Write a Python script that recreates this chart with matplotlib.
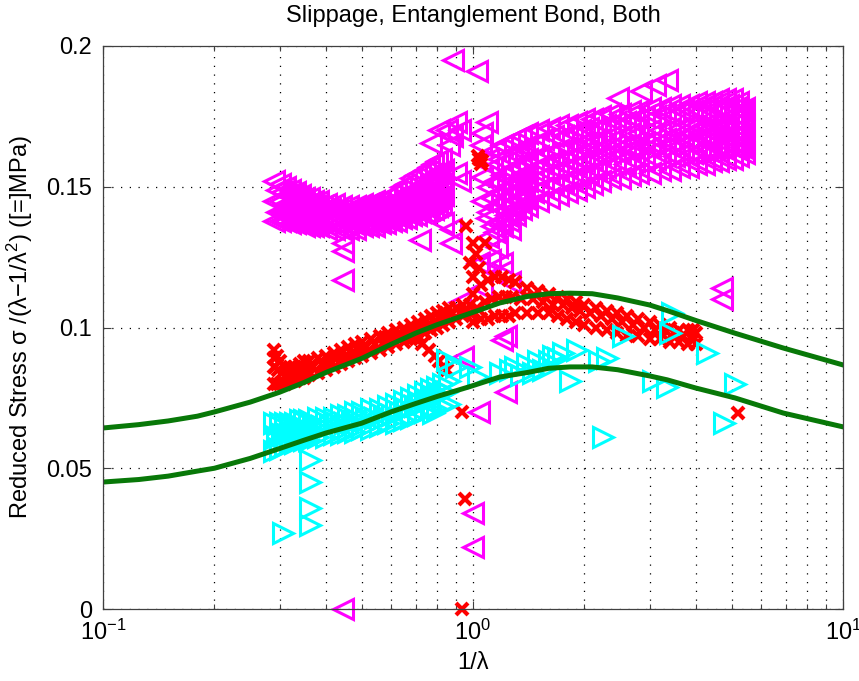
import numpy as np
import matplotlib
matplotlib.use('Agg')
import matplotlib.pyplot as plt
from matplotlib.ticker import LogLocator, FixedLocator, FuncFormatter

plt.rcParams['font.family'] = ['Liberation Sans', 'DejaVu Sans']
plt.rcParams['mathtext.fontset'] = 'custom'
plt.rcParams['mathtext.rm'] = 'Liberation Sans'
plt.rcParams['mathtext.it'] = 'Liberation Sans'

# ---- magenta (left-pointing triangles) ----
mag_left_x = [0.29, 0.30, 0.31, 0.32, 0.33, 0.34, 0.35, 0.36, 0.37, 0.38, 0.40, 0.42,
              0.44, 0.46, 0.48, 0.50, 0.52, 0.54, 0.56, 0.58, 0.60, 0.62, 0.64, 0.66,
              0.68, 0.70, 0.72, 0.74, 0.76, 0.78, 0.80, 0.82]
mag_left_hi = [0.152, 0.151, 0.150, 0.149, 0.148, 0.147, 0.146, 0.146, 0.145, 0.145, 0.144, 0.144,
               0.143, 0.143, 0.143, 0.144, 0.144, 0.145, 0.145, 0.146, 0.147, 0.148, 0.150, 0.151,
               0.153, 0.154, 0.155, 0.156, 0.157, 0.158, 0.159, 0.160]
mag_left_mid = [0.145, 0.145, 0.144, 0.144, 0.143, 0.143, 0.142, 0.142, 0.141, 0.141, 0.140, 0.140,
                0.140, 0.140, 0.140, 0.140, 0.141, 0.141, 0.141, 0.142, 0.142, 0.143, 0.144, 0.144,
                0.145, 0.146, 0.147, 0.147, 0.148, 0.149, 0.150, 0.151]
mag_left_lo = [0.138, 0.138, 0.138, 0.137, 0.137, 0.137, 0.136, 0.136, 0.136, 0.136, 0.135, 0.135,
               0.135, 0.135, 0.135, 0.136, 0.136, 0.136, 0.137, 0.137, 0.138, 0.138, 0.139, 0.139,
               0.140, 0.140, 0.141, 0.141, 0.142, 0.142, 0.143, 0.144]
mag_left_x2 = [0.295, 0.305, 0.315, 0.325, 0.335, 0.345, 0.355, 0.365, 0.375, 0.39, 0.41, 0.43,
               0.45, 0.47, 0.49, 0.51, 0.53, 0.55, 0.57, 0.59, 0.61, 0.63, 0.65, 0.67,
               0.69, 0.71, 0.73, 0.75, 0.77, 0.79, 0.81, 0.83]
mag_left_a = [0.149, 0.148, 0.147, 0.147, 0.146, 0.145, 0.144, 0.144, 0.143, 0.143, 0.142, 0.142,
              0.141, 0.141, 0.142, 0.142, 0.143, 0.143, 0.143, 0.144, 0.145, 0.146, 0.147, 0.148,
              0.149, 0.150, 0.151, 0.152, 0.153, 0.154, 0.155, 0.156]
mag_left_b = [0.141, 0.141, 0.141, 0.140, 0.140, 0.140, 0.139, 0.139, 0.138, 0.138, 0.137, 0.137,
              0.137, 0.137, 0.137, 0.138, 0.138, 0.138, 0.139, 0.139, 0.140, 0.140, 0.141, 0.142,
              0.142, 0.143, 0.144, 0.144, 0.145, 0.145, 0.146, 0.147]

mag_right_x = [1.10, 1.15, 1.20, 1.25, 1.30, 1.35, 1.40, 1.50, 1.60, 1.70, 1.80, 1.90, 2.00, 2.10,
               2.20, 2.35, 2.50, 2.65, 2.80, 3.00, 3.20, 3.40, 3.60, 3.80, 4.00, 4.20, 4.40, 4.60,
               4.80, 5.00, 5.20, 5.40]
mag_right_hi = [0.160, 0.163, 0.165, 0.166, 0.167, 0.168, 0.169, 0.170, 0.171, 0.172, 0.172, 0.173,
                0.174, 0.174, 0.175, 0.176, 0.176, 0.177, 0.177, 0.178, 0.178, 0.179, 0.179, 0.179,
                0.180, 0.180, 0.180, 0.181, 0.181, 0.181, 0.180, 0.178]
mag_right_m1 = [0.150, 0.152, 0.154, 0.156, 0.157, 0.158, 0.160, 0.161, 0.162, 0.163, 0.164, 0.165,
                0.166, 0.166, 0.167, 0.168, 0.168, 0.169, 0.169, 0.170, 0.170, 0.171, 0.171, 0.172,
                0.172, 0.172, 0.173, 0.173, 0.173, 0.174, 0.173, 0.172]
mag_right_m2 = [0.141, 0.143, 0.145, 0.147, 0.149, 0.150, 0.152, 0.153, 0.155, 0.156, 0.157, 0.158,
                0.159, 0.160, 0.161, 0.162, 0.162, 0.163, 0.163, 0.164, 0.164, 0.165, 0.165, 0.166,
                0.166, 0.167, 0.167, 0.168, 0.168, 0.168, 0.167, 0.166]
mag_right_lo = [0.132, 0.134, 0.136, 0.138, 0.140, 0.142, 0.143, 0.145, 0.146, 0.147, 0.148, 0.149,
                0.150, 0.151, 0.152, 0.153, 0.153, 0.154, 0.155, 0.155, 0.156, 0.156, 0.157, 0.157,
                0.158, 0.158, 0.159, 0.159, 0.160, 0.160, 0.161, 0.162]
mag_right_x2 = [1.125, 1.175, 1.225, 1.275, 1.325, 1.375, 1.45, 1.55, 1.65, 1.75, 1.85, 1.95, 2.05,
                2.15, 2.27, 2.42, 2.57, 2.72, 2.90, 3.10, 3.30, 3.50, 3.70, 3.90, 4.10, 4.30, 4.50,
                4.70, 4.90, 5.10, 5.30]
mag_right_a = [0.157, 0.160, 0.161, 0.162, 0.163, 0.164, 0.165, 0.167, 0.168, 0.168, 0.169, 0.170,
               0.171, 0.171, 0.172, 0.173, 0.173, 0.174, 0.175, 0.175, 0.176, 0.176, 0.177, 0.177,
               0.177, 0.178, 0.178, 0.178, 0.179, 0.178, 0.177]
mag_right_b = [0.146, 0.148, 0.150, 0.152, 0.153, 0.155, 0.156, 0.158, 0.159, 0.160, 0.161, 0.162,
               0.163, 0.163, 0.164, 0.165, 0.165, 0.166, 0.166, 0.167, 0.167, 0.168, 0.168, 0.169,
               0.169, 0.170, 0.170, 0.171, 0.171, 0.170, 0.169]
mag_right_c = [0.136, 0.138, 0.140, 0.142, 0.145, 0.146, 0.148, 0.150, 0.151, 0.152, 0.153, 0.154,
               0.155, 0.156, 0.157, 0.158, 0.158, 0.159, 0.160, 0.160, 0.161, 0.161, 0.162, 0.162,
               0.163, 0.163, 0.164, 0.164, 0.165, 0.164, 0.164]

mag_pts_x = [0.445, 0.445, 0.445, 0.445, 0.883, 1.026, 0.85, 0.88, 0.86, 1.09, 1.06, 1.05,
             0.77, 0.81, 0.90, 0.92, 0.83, 0.90, 0.92, 0.72, 0.87, 0.87, 0.83,
             1.06, 1.06, 1.09, 1.04, 1.16, 1.20, 1.26, 1.03, 1.11, 1.20, 1.06, 1.26,
             0.92, 1.20, 1.23, 1.23, 1.04, 1.00, 1.00, 0.94,
             2.46, 2.84, 3.35, 3.10, 4.71, 4.71]
mag_pts_y = [0.130, 0.127, 0.117, 0.000, 0.195, 0.191, 0.170, 0.168, 0.165, 0.173, 0.169, 0.165,
             0.1655, 0.170, 0.173, 0.170, 0.156, 0.155, 0.152, 0.131, 0.135, 0.130, 0.137,
             0.1535, 0.145, 0.139, 0.123, 0.1286, 0.123, 0.135, 0.123, 0.124, 0.120, 0.114, 0.116,
             0.109, 0.0955, 0.077, 0.097, 0.070, 0.034, 0.022, 0.0895,
             0.1815, 0.184, 0.188, 0.186, 0.114, 0.110]

# ---- cyan (right-pointing triangles) ----
cyan_band_x = [0.29, 0.30, 0.31, 0.32, 0.33, 0.34, 0.35, 0.36, 0.38, 0.40, 0.42, 0.44, 0.46, 0.48,
               0.50, 0.53, 0.56, 0.59, 0.62, 0.65, 0.68, 0.71, 0.74, 0.77, 0.80, 0.83, 0.86]
cyan_band_hi = [0.066, 0.066, 0.066, 0.066, 0.066, 0.067, 0.067, 0.067, 0.068, 0.068, 0.068, 0.069,
                0.069, 0.070, 0.070, 0.071, 0.071, 0.072, 0.073, 0.074, 0.075, 0.076, 0.077, 0.078,
                0.079, 0.080, 0.081]
cyan_band_lo = [0.056, 0.057, 0.058, 0.059, 0.059, 0.060, 0.060, 0.060, 0.061, 0.061, 0.062, 0.062,
                0.063, 0.063, 0.064, 0.064, 0.065, 0.066, 0.066, 0.067, 0.068, 0.069, 0.070, 0.071,
                0.071, 0.072, 0.073]
cyan_band_x2 = [0.295, 0.305, 0.315, 0.325, 0.335, 0.345, 0.355, 0.37, 0.39, 0.41, 0.43, 0.45, 0.47,
                0.49, 0.515, 0.545, 0.575, 0.605, 0.635, 0.665, 0.695, 0.725, 0.755, 0.785, 0.815,
                0.845]
cyan_band_m = [0.061, 0.062, 0.062, 0.063, 0.063, 0.063, 0.064, 0.064, 0.065, 0.065, 0.066, 0.066,
               0.066, 0.067, 0.067, 0.068, 0.068, 0.069, 0.070, 0.071, 0.072, 0.073, 0.074, 0.075,
               0.076, 0.077]
cyan_pts_x = [0.363, 0.363, 0.363, 0.363, 0.306,
              0.85, 0.90, 0.98, 1.03, 1.18, 1.26, 0.78,
              1.30, 1.40, 1.50, 1.60, 1.70, 1.35, 1.45, 1.55, 1.65, 1.75,
              1.91, 2.19, 2.30, 1.83, 2.54, 3.46, 3.40, 4.30, 3.07, 3.35, 5.10, 4.76, 2.24]
cyan_pts_y = [0.053, 0.045, 0.036, 0.030, 0.027,
              0.0885, 0.086, 0.086, 0.0825, 0.084, 0.085, 0.0696,
              0.086, 0.087, 0.088, 0.088, 0.089, 0.083, 0.084, 0.085, 0.090, 0.091,
              0.092, 0.088, 0.089, 0.081, 0.097, 0.105, 0.098, 0.091, 0.081, 0.079, 0.080, 0.066, 0.061]

# ---- red (x markers) ----
red_left_x = [0.29, 0.295, 0.30, 0.31, 0.32, 0.33, 0.34, 0.35, 0.36, 0.38, 0.40, 0.42, 0.44, 0.46,
              0.48, 0.50, 0.53, 0.56, 0.59, 0.62, 0.65, 0.68, 0.71, 0.74, 0.77, 0.80, 0.83, 0.86,
              0.90, 0.94, 0.98]
red_left_hi = [0.092, 0.090, 0.088, 0.086, 0.086, 0.086, 0.087, 0.088, 0.088, 0.089, 0.090, 0.091,
               0.092, 0.093, 0.094, 0.095, 0.096, 0.097, 0.098, 0.099, 0.100, 0.101, 0.102, 0.103,
               0.104, 0.105, 0.106, 0.107, 0.107, 0.108, 0.108]
red_left_lo = [0.080, 0.080, 0.080, 0.080, 0.081, 0.081, 0.082, 0.082, 0.083, 0.084, 0.085, 0.086,
               0.087, 0.088, 0.089, 0.090, 0.091, 0.092, 0.093, 0.094, 0.095, 0.096, 0.097, 0.098,
               0.099, 0.100, 0.101, 0.102, 0.103, 0.104, 0.105]
red_left_x2 = [0.2925, 0.2975, 0.305, 0.315, 0.325, 0.335, 0.345, 0.355, 0.37, 0.39, 0.41, 0.43,
               0.45, 0.47, 0.49, 0.515, 0.545, 0.575, 0.605, 0.635, 0.665, 0.695, 0.725, 0.755,
               0.785, 0.815, 0.845, 0.88, 0.92, 0.96]
red_left_m = [0.086, 0.085, 0.084, 0.083, 0.083, 0.084, 0.084, 0.085, 0.086, 0.087, 0.088, 0.089,
              0.090, 0.091, 0.092, 0.093, 0.094, 0.095, 0.096, 0.097, 0.098, 0.099, 0.100, 0.101,
              0.102, 0.103, 0.104, 0.105, 0.105, 0.106]
red_hook_x = [0.58, 0.62, 0.66, 0.70, 0.73, 0.76, 0.79, 0.81, 0.83, 0.85]
red_hook_y = [0.0966, 0.097, 0.097, 0.096, 0.094, 0.092, 0.090, 0.088, 0.086, 0.085]

red_right_x = [1.00, 1.05, 1.10, 1.15, 1.20, 1.25, 1.30, 1.40, 1.50, 1.60, 1.70, 1.80, 1.90, 2.00,
               2.15, 2.30, 2.45, 2.60, 2.80, 3.00, 3.20, 3.40, 3.60, 3.80, 4.00]
red_right_hi = [0.112, 0.115, 0.117, 0.118, 0.118, 0.117, 0.116, 0.114, 0.113, 0.112, 0.111, 0.110,
                0.109, 0.108, 0.107, 0.106, 0.105, 0.104, 0.103, 0.102, 0.101, 0.100, 0.099, 0.099,
                0.098]
red_right_lo = [0.102, 0.103, 0.103, 0.104, 0.104, 0.104, 0.105, 0.105, 0.105, 0.105, 0.104, 0.103,
                0.102, 0.101, 0.100, 0.099, 0.098, 0.097, 0.097, 0.096, 0.096, 0.095, 0.095, 0.094,
                0.094]
red_right_x2 = [1.025, 1.075, 1.125, 1.175, 1.225, 1.275, 1.35, 1.45, 1.55, 1.65, 1.75, 1.85, 1.95,
                2.07, 2.22, 2.37, 2.52, 2.70, 2.90, 3.10, 3.30, 3.50, 3.70, 3.90]
red_right_m = [0.107, 0.109, 0.110, 0.111, 0.111, 0.111, 0.110, 0.110, 0.109, 0.108, 0.108, 0.107,
               0.106, 0.105, 0.104, 0.103, 0.102, 0.101, 0.100, 0.099, 0.099, 0.098, 0.097, 0.097]
red_pts_x = [1.04, 1.05, 1.03, 1.06, 0.96, 1.00, 1.08, 0.98, 1.02, 1.04, 1.00, 0.29, 0.29,
             0.935, 0.95, 0.935, 5.19, 3.93, 3.93]
red_pts_y = [0.160, 0.158, 0.161, 0.159, 0.136, 0.130, 0.130, 0.123, 0.126, 0.121, 0.118, 0.086, 0.089,
             0.070, 0.039, 0.000, 0.0696, 0.099, 0.0956]

# ---- green model curves ----
green_x = [0.1, 0.125, 0.15, 0.18, 0.2, 0.25, 0.3, 0.35, 0.4, 0.5, 0.6, 0.7, 0.8, 0.98, 1.18,
           1.4, 1.6, 1.83, 2.1, 2.46, 3.0, 3.35, 4.0, 5.1, 6.9, 10]
green_upper = [0.0643, 0.0655, 0.0668, 0.0685, 0.070, 0.0735, 0.077, 0.0805, 0.084, 0.089, 0.094,
               0.098, 0.101, 0.105, 0.1087, 0.111, 0.112, 0.1122, 0.112, 0.1105, 0.108, 0.106,
               0.1025, 0.098, 0.0927, 0.0867]
green_lower = [0.0451, 0.046, 0.0472, 0.049, 0.050, 0.0535, 0.057, 0.060, 0.0625, 0.066, 0.070,
               0.073, 0.0755, 0.079, 0.0824, 0.084, 0.0855, 0.086, 0.086, 0.085, 0.0828, 0.0814,
               0.0785, 0.075, 0.0696, 0.0647]

fig = plt.figure(figsize=(8.59, 6.81), dpi=100)
ax = fig.add_axes([103 / 859, 72 / 681, 740 / 859, 563 / 681])

MAG = '#ff00ff'
CYA = '#00ffff'
RED = '#ff0000'
tri = dict(linestyle='none', markerfacecolor='none', markersize=14, markeredgewidth=2.2)
crs = dict(linestyle='none', markersize=9, markeredgewidth=3)

for yy in (mag_left_hi, mag_left_mid, mag_left_lo):
    ax.plot(mag_left_x, yy, '<', color=MAG, **tri)
for yy in (mag_left_a, mag_left_b):
    ax.plot(mag_left_x2, yy, '<', color=MAG, **tri)
for yy in (mag_right_hi, mag_right_m1, mag_right_m2, mag_right_lo):
    ax.plot(mag_right_x, yy, '<', color=MAG, **tri)
for yy in (mag_right_a, mag_right_b, mag_right_c):
    ax.plot(mag_right_x2, yy, '<', color=MAG, **tri)
ax.plot(mag_pts_x, mag_pts_y, '<', color=MAG, clip_on=False, **tri)

for yy in (red_left_hi, red_left_lo):
    ax.plot(red_left_x, yy, 'x', color=RED, **crs)
ax.plot(red_left_x2, red_left_m, 'x', color=RED, **crs)
ax.plot(red_hook_x, red_hook_y, 'x', color=RED, **crs)
for yy in (red_right_hi, red_right_lo):
    ax.plot(red_right_x, yy, 'x', color=RED, **crs)
ax.plot(red_right_x2, red_right_m, 'x', color=RED, **crs)
ax.plot(red_pts_x, red_pts_y, 'x', color=RED, clip_on=False, **crs)

for yy in (cyan_band_hi, cyan_band_lo):
    ax.plot(cyan_band_x, yy, '>', color=CYA, **tri)
ax.plot(cyan_band_x2, cyan_band_m, '>', color=CYA, **tri)
ax.plot(cyan_pts_x, cyan_pts_y, '>', color=CYA, **tri)

ax.plot(green_x, green_upper, '-', color='#087808', linewidth=3.6)
ax.plot(green_x, green_lower, '-', color='#087808', linewidth=3.6)

ax.set_xscale('log')
ax.set_xlim(0.1, 10)
ax.set_ylim(0, 0.2)
ax.yaxis.set_major_locator(FixedLocator([0, 0.05, 0.1, 0.15, 0.2]))
ax.yaxis.set_major_formatter(FuncFormatter(lambda v, p: '%g' % v))
ax.xaxis.set_major_locator(LogLocator(base=10, numticks=5))
ax.xaxis.set_minor_locator(LogLocator(base=10, subs=np.arange(2, 10), numticks=20))

ax.grid(True, which='both', axis='x', color='black', linestyle=(0, (1, 6)), linewidth=0.9)
ax.grid(True, which='major', axis='y', color='black', linestyle=(0, (1, 6)), linewidth=0.9)
ax.set_axisbelow(True)

ax.tick_params(which='both', direction='in', top=True, right=True, labelsize=17,
               color='#404040', width=0.8)
ax.tick_params(which='major', length=6, pad=8)
ax.tick_params(which='minor', length=3.5)
for s in ax.spines.values():
    s.set_color('#404040')
    s.set_linewidth(0.9)

ax.set_title('Slippage, Entanglement Bond, Both', fontsize=17, pad=17)
ax.set_xlabel('1/λ', fontsize=17, labelpad=5)
ax.set_ylabel('Reduced Stress σ /(λ−1/λ$^2$) ([=]MPa)', fontsize=17, labelpad=8)

fig.savefig('out.png', dpi=100)
